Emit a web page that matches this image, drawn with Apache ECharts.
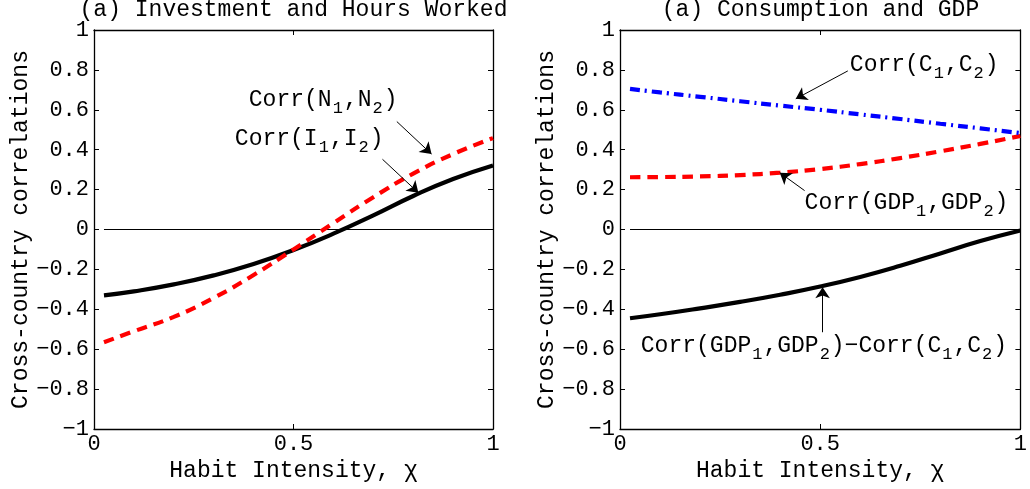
<!DOCTYPE html>
<html>
<head>
<meta charset="utf-8">
<title>Habit intensity and cross-country correlations</title>
<script src="https://cdn.jsdelivr.net/npm/echarts@6/dist/echarts.min.js"></script>
<style>
html, body { margin: 0; padding: 0; background: #fff; }
#main { width: 1030px; height: 489px; }
</style>
</head>
<body>
<div id="main"></div>
<script>
// habit intensity (x of both panels)
var chi = [0.025, 0.1, 0.2, 0.3, 0.4, 0.5, 0.6, 0.7, 0.8, 0.9, 1.0];

// left panel: investment and hours worked
var corrInvest = [-0.33, -0.31, -0.275, -0.23, -0.173, -0.103, -0.021, 0.071, 0.168, 0.253, 0.321];
var corrHours  = [-0.565, -0.51, -0.438, -0.343, -0.228, -0.1, 0.032, 0.162, 0.28, 0.378, 0.458];

// right panel: consumption and GDP
var corrCons = [0.705, 0.687, 0.665, 0.643, 0.621, 0.6, 0.577, 0.554, 0.53, 0.507, 0.483];
var corrGdp  = [0.262, 0.263, 0.266, 0.273, 0.285, 0.303, 0.328, 0.358, 0.392, 0.429, 0.469];
var corrDiff = [-0.445, -0.425, -0.395, -0.363, -0.327, -0.286, -0.238, -0.182, -0.12, -0.058, -0.005];

// thin line at zero
var zeroX = [0.025, 1];
var zeroY = [0, 0];

var panelTitles = ['(a) Investment and Hours Worked', '(a) Consumption and GDP'];
var xName = 'Habit Intensity, \u03c7';
var yName = 'Cross-country correlations';

// annotations (data units): arrow [fromX, fromY, toX, toY], text anchor [x, y]
var leftArrows  = [[0.759, 0.541, 0.846, 0.378], [0.723, 0.352, 0.813, 0.184]];
var leftTexts   = ['Corr(N{s|1},N{s|2})', 'Corr(I{s|1},I{s|2})'];
var leftTextPos = [[0.388, 0.65], [0.353, 0.453]];
var rightArrows  = [[0.569, 0.795, 0.439, 0.655], [0.461, 0.195, 0.399, 0.285], [0.506, -0.515, 0.506, -0.29]];
var rightTexts   = ['Corr(C{s|1},C{s|2})', 'Corr(GDP{s|1},GDP{s|2})', 'Corr(GDP{s|1},GDP{s|2})\u2212Corr(C{s|1},C{s|2})'];
var rightTextPos = [[0.574, 0.825], [0.461, 0.135], [0.052, -0.585]];

var FONT = '"Liberation Mono", "DejaVu Sans Mono", monospace';

function pairs(xs, ys) {
  return xs.map(function (x, i) { return [x, ys[i]]; });
}

function xAxes(g) {
  var base = {
    gridIndex: g, type: 'value', min: 0, max: 1, interval: 0.5,
    axisLine: { show: true, onZero: false, lineStyle: { color: '#000', width: 1.3 } },
    axisTick: { show: true, inside: true, length: 5, lineStyle: { color: '#000', width: 1 } },
    splitLine: { show: false }
  };
  var bottom = Object.assign({}, base, {
    position: 'bottom',
    axisLabel: { color: '#000', fontSize: 22, fontFamily: FONT, margin: 4 },
    name: xName, nameLocation: 'middle', nameGap: 29,
    nameTextStyle: { color: '#000', fontSize: 23, fontFamily: FONT }
  });
  var top = Object.assign({}, base, { position: 'top', axisLabel: { show: false } });
  return [bottom, top];
}

function yAxes(g) {
  var base = {
    gridIndex: g, type: 'value', min: -1, max: 1, interval: 0.2,
    axisLine: { show: true, onZero: false, lineStyle: { color: '#000', width: 1.3 } },
    axisTick: { show: true, inside: true, length: 5, lineStyle: { color: '#000', width: 1 } },
    splitLine: { show: false }
  };
  var left = Object.assign({}, base, {
    position: 'left',
    axisLabel: {
      color: '#000', fontSize: 22, fontFamily: FONT, margin: 5,
      formatter: function (v) { return String(Math.round(v * 10) / 10).replace('-', '\u2212'); }
    },
    name: yName, nameLocation: 'middle', nameGap: 62,
    nameTextStyle: { color: '#000', fontSize: 23, fontFamily: FONT }
  });
  var right = Object.assign({}, base, { position: 'right', axisLabel: { show: false } });
  return [left, right];
}

function zeroSeries(g, arrows, texts, textPos) {
  return {
    type: 'line', xAxisIndex: 2 * g, yAxisIndex: 2 * g,
    data: pairs(zeroX, zeroY), showSymbol: false, symbol: 'none', silent: true,
    lineStyle: { color: '#000', width: 1.2 },
    markLine: {
      silent: true, animation: false, symbolSize: 11,
      label: { show: false },
      lineStyle: { color: '#000', width: 1, type: 'solid' },
      data: arrows.map(function (a) {
        return [{ coord: [a[0], a[1]], symbol: 'none' }, { coord: [a[2], a[3]], symbol: 'arrow' }];
      })
    },
    markPoint: {
      silent: true, animation: false, symbol: 'circle', symbolSize: 0,
      label: {
        show: true, position: 'right', distance: 0, color: '#000',
        fontSize: 23, fontFamily: FONT, lineHeight: 34,
        rich: { s: { fontSize: 17, fontFamily: FONT, color: '#000', lineHeight: 14, verticalAlign: 'bottom', padding: [0, 1, 0, 1] } }
      },
      data: texts.map(function (t, i) {
        return { coord: textPos[i], label: { formatter: t } };
      })
    }
  };
}

function curve(g, ys, color, dash) {
  return {
    type: 'line', xAxisIndex: 2 * g, yAxisIndex: 2 * g,
    data: pairs(chi, ys), showSymbol: false, symbol: 'none', smooth: 0.5, silent: true,
    lineStyle: { color: color, width: 4.2, type: dash, cap: 'butt' }
  };
}

var chart = echarts.init(document.getElementById('main'), null, { renderer: 'canvas' });
chart.setOption({
  animation: false,
  backgroundColor: '#fff',
  grid: [
    { left: 94, top: 30, width: 399, height: 399 },
    { left: 620, top: 30, width: 401, height: 399 }
  ],
  xAxis: xAxes(0).concat(xAxes(1)),
  yAxis: yAxes(0).concat(yAxes(1)),
  graphic: [
    { type: 'text', x: 293.5, y: 10, silent: true,
      style: { text: panelTitles[0], font: '23px ' + FONT, fill: '#000', align: 'center', verticalAlign: 'middle' } },
    { type: 'text', x: 820.5, y: 10, silent: true,
      style: { text: panelTitles[1], font: '23px ' + FONT, fill: '#000', align: 'center', verticalAlign: 'middle' } }
  ],
  series: [
    zeroSeries(0, leftArrows, leftTexts, leftTextPos),
    curve(0, corrInvest, '#000', 'solid'),
    curve(0, corrHours, '#ff0000', [10.5, 7]),
    zeroSeries(1, rightArrows, rightTexts, rightTextPos),
    curve(1, corrDiff, '#000', 'solid'),
    curve(1, corrGdp, '#ff0000', [10.5, 7]),
    curve(1, corrCons, '#0000ff', [10, 5, 2, 5])
  ]
});
</script>
</body>
</html>
